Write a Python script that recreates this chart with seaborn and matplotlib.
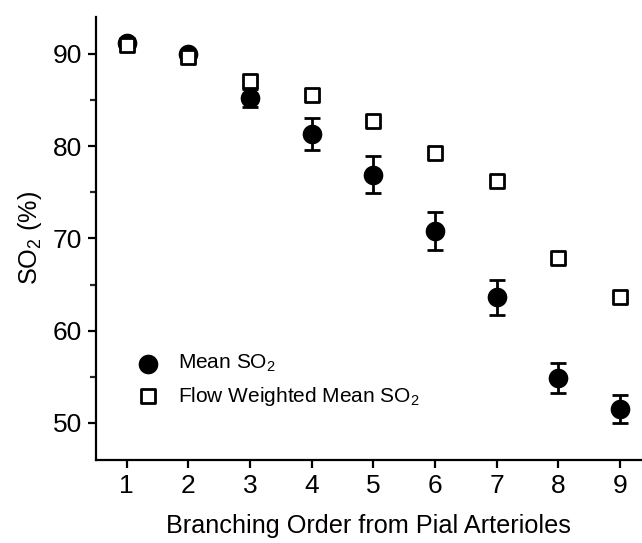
import numpy as np
import pandas as pd
import matplotlib
matplotlib.use("Agg")
import matplotlib.pyplot as plt
import seaborn as sns
from matplotlib.ticker import MultipleLocator

# Branching order from pial arterioles
order = [1, 2, 3, 4, 5, 6, 7, 8, 9]
# Mean SO2 (%) and its error
mean_so2 = [91.2, 90.0, 85.2, 81.3, 76.9, 70.8, 63.6, 54.9, 51.5]
mean_err = [0.4, 0.3, 1.0, 1.7, 2.0, 2.1, 1.85, 1.6, 1.5]
# Flow weighted mean SO2 (%)
flow_so2 = [91.0, 89.7, 87.0, 85.5, 82.7, 79.3, 76.2, 67.9, 63.7]

df = pd.DataFrame({"order": order, "mean": mean_so2, "err": mean_err, "flow": flow_so2})

sns.set_style("ticks")
plt.rcParams["font.family"] = ["Liberation Sans", "DejaVu Sans"]
plt.rcParams["mathtext.default"] = "regular"
plt.rcParams["text.color"] = "black"
plt.rcParams["axes.labelcolor"] = "black"

fig = plt.figure(figsize=(6.42, 5.43), dpi=100)
ax = fig.add_axes([0.1495, 0.153, 0.85, 0.816])

ax.errorbar(df["order"], df["mean"], yerr=df["err"], fmt="none",
            ecolor="black", elinewidth=2, capsize=6, capthick=2, zorder=2)
sns.scatterplot(data=df, x="order", y="mean", marker="o", s=200, color="black",
                edgecolor="black", linewidth=0, label="Mean SO$_2$", ax=ax, zorder=3)
sns.scatterplot(data=df, x="order", y="flow", marker="s", s=110, facecolor="white",
                edgecolor="black", linewidth=2, label="Flow Weighted Mean SO$_2$",
                ax=ax, zorder=4)

ax.set_xlim(0.5, 9.35)
ax.set_ylim(46, 94)
ax.set_xticks(order)
ax.yaxis.set_major_locator(MultipleLocator(10))
ax.yaxis.set_minor_locator(MultipleLocator(5))

for s in ["top", "right"]:
    ax.spines[s].set_visible(False)
for s in ["left", "bottom"]:
    ax.spines[s].set_linewidth(1.6)
    ax.spines[s].set_color("black")

ax.tick_params(axis="both", which="major", direction="out", length=6, width=1.6,
               labelsize=19, colors="black", pad=4)
ax.tick_params(axis="y", which="minor", direction="out", length=4, width=1.6)

ax.set_xlabel("Branching Order from Pial Arterioles", fontsize=18.2, labelpad=12)
ax.set_ylabel("SO$_2$ (%)", fontsize=18.2, labelpad=6)

ax.legend(loc="lower left", bbox_to_anchor=(0.038, 0.094), frameon=False,
          fontsize=15, handletextpad=0.45, labelspacing=0.5, borderpad=0)

fig.savefig("out.png", dpi=100)
